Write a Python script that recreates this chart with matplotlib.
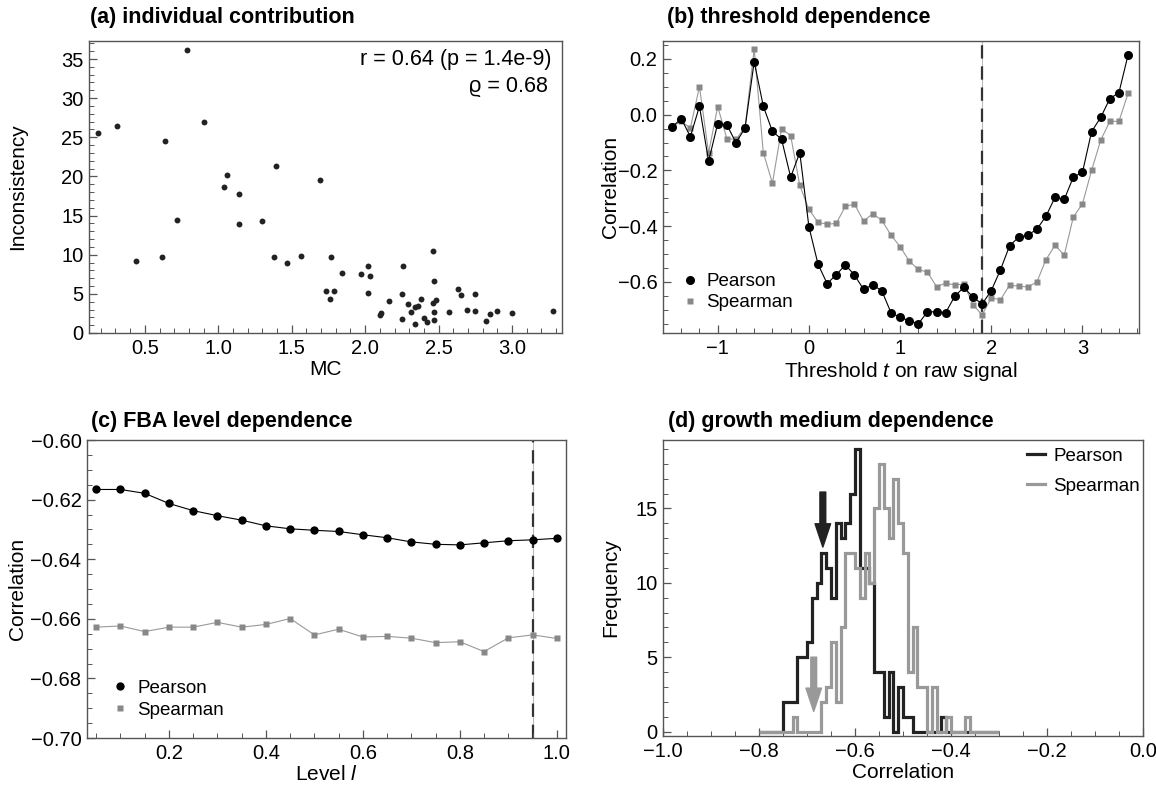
import numpy as np
import matplotlib
matplotlib.use('Agg')
import matplotlib.pyplot as plt
from matplotlib.ticker import MultipleLocator, FuncFormatter

plt.rcParams['font.family'] = ['Liberation Sans', 'DejaVu Sans']
plt.rcParams['mathtext.fontset'] = 'custom'
plt.rcParams['mathtext.rm'] = 'Liberation Sans'
plt.rcParams['mathtext.it'] = 'Liberation Sans:italic'

# ---------------- data ----------------
# (a) individual contribution
mc = [0.18, 0.31, 0.79, 0.90, 0.64, 0.44, 0.62, 0.72, 1.04, 1.06, 1.14, 1.14, 1.30,
      1.39, 1.38, 1.47, 1.56, 1.69, 1.77, 1.84, 1.73, 1.79, 1.76, 1.97, 2.02, 2.03,
      2.02, 2.10, 2.11, 2.16, 2.26, 2.25, 2.25, 2.29, 2.31, 2.34, 2.36, 2.38, 2.34,
      2.40, 2.42, 2.46, 2.46, 2.47, 2.48, 2.47, 2.47, 2.57, 2.63, 2.65, 2.69, 2.75,
      2.75, 2.82, 2.85, 2.90, 3.00, 3.28]
inconsistency = [25.6, 26.5, 36.2, 26.9, 24.5, 9.2, 9.7, 14.4, 18.6, 20.2, 17.7, 13.9, 14.3,
                 21.3, 9.7, 8.9, 9.8, 19.5, 9.7, 7.7, 5.4, 5.4, 4.4, 7.6, 8.5, 7.3,
                 5.1, 2.3, 2.5, 4.1, 8.6, 5.0, 1.8, 3.7, 2.7, 3.3, 3.5, 4.3, 1.1,
                 1.9, 1.4, 10.5, 3.8, 6.7, 4.2, 2.7, 1.6, 2.7, 5.6, 4.9, 2.9, 5.0,
                 2.8, 1.5, 2.4, 2.8, 2.5, 2.8]

# (b) threshold dependence
threshold = [-1.5, -1.4, -1.3, -1.2, -1.1, -1.0, -0.9, -0.8, -0.7, -0.6, -0.5, -0.4, -0.3,
             -0.2, -0.1, 0.0, 0.1, 0.2, 0.3, 0.4, 0.5, 0.6, 0.7, 0.8, 0.9, 1.0, 1.1, 1.2,
             1.3, 1.4, 1.5, 1.6, 1.7, 1.8, 1.9, 2.0, 2.1, 2.2, 2.3, 2.4, 2.5, 2.6, 2.7,
             2.8, 2.9, 3.0, 3.1, 3.2, 3.3, 3.4, 3.5]
pearson_t = [-0.045, -0.014, -0.079, 0.030, -0.167, -0.032, -0.036, -0.101, -0.048, 0.190,
             0.030, -0.060, -0.088, -0.224, -0.136, -0.402, -0.536, -0.606, -0.574, -0.539,
             -0.575, -0.627, -0.610, -0.632, -0.710, -0.727, -0.739, -0.750, -0.707, -0.707,
             -0.710, -0.651, -0.619, -0.655, -0.679, -0.631, -0.557, -0.471, -0.439, -0.432,
             -0.411, -0.364, -0.296, -0.304, -0.224, -0.207, -0.061, -0.010, 0.057, 0.079,
             0.214]
spearman_t = [-0.042, -0.024, -0.048, 0.100, -0.137, 0.029, -0.086, -0.089, -0.044, 0.235,
              -0.136, -0.246, -0.051, -0.075, -0.254, -0.340, -0.386, -0.393, -0.390, -0.329,
              -0.321, -0.382, -0.355, -0.379, -0.432, -0.473, -0.525, -0.555, -0.565, -0.617,
              -0.604, -0.611, -0.607, -0.682, -0.718, -0.657, -0.664, -0.612, -0.615, -0.618,
              -0.600, -0.520, -0.468, -0.504, -0.367, -0.320, -0.200, -0.092, -0.024, -0.024,
              0.076]
t_marked = 1.9

# (c) FBA level dependence
level = [0.05, 0.10, 0.15, 0.20, 0.25, 0.30, 0.35, 0.40, 0.45, 0.50, 0.55, 0.60, 0.65,
         0.70, 0.75, 0.80, 0.85, 0.90, 0.95, 1.00]
pearson_l = [-0.6166, -0.6166, -0.6179, -0.6213, -0.6237, -0.6254, -0.6269, -0.6288,
             -0.6298, -0.6303, -0.6307, -0.6318, -0.6328, -0.6342, -0.6350, -0.6352,
             -0.6345, -0.6338, -0.6335, -0.6330]
spearman_l = [-0.6628, -0.6624, -0.6643, -0.6628, -0.6628, -0.6612, -0.6628, -0.6619,
              -0.6599, -0.6654, -0.6635, -0.6661, -0.6659, -0.6665, -0.6680, -0.6677,
              -0.6710, -0.6664, -0.6654, -0.6666]
l_marked = 0.95

# (d) growth medium dependence: histogram counts in bins of 0.01 from -0.80 to -0.30
bin_edges = np.round(np.arange(-0.80, -0.295, 0.01), 2)
pearson_counts = [0, 0, 0, 0, 0, 2, 2, 2, 5, 5, 6, 9, 10, 12, 11, 9, 14, 13, 14, 16,
                  19, 11, 11, 10, 4, 4, 1, 4, 0, 3, 1, 1, 0, 0, 0, 0, 0, 0, 1, 0,
                  0, 0, 0, 0, 0, 0, 0, 0, 0, 0]
spearman_counts = [0, 0, 0, 0, 0, 0, 0, 1, 0, 0, 0, 0, 0, 2, 3, 6, 2, 7, 12, 12,
                   11, 9, 12, 10, 15, 18, 15, 13, 17, 14, 12, 4, 7, 3, 3, 0, 3, 0, 0, 1,
                   0, 0, 0, 1, 0, 0, 0, 0, 0, 0]
arrow_pearson = (-0.667, 16.1, 12.4)
arrow_spearman = (-0.686, 5.0, 1.35)

# ---------------- figure ----------------
W, H = 1156, 787
fig = plt.figure(figsize=(W / 100, H / 100), dpi=100)


def px_axes(l, t, r, b):
    return fig.add_axes([l / W, 1 - b / H, (r - l) / W, (b - t) / H])


def style(ax, xmaj, xmin, ymaj, ymin):
    for s in ax.spines.values():
        s.set_color('#555555')
        s.set_linewidth(1.0)
    ax.xaxis.set_major_locator(MultipleLocator(xmaj))
    ax.xaxis.set_minor_locator(MultipleLocator(xmin))
    ax.yaxis.set_major_locator(MultipleLocator(ymaj))
    ax.yaxis.set_minor_locator(MultipleLocator(ymin))
    ax.tick_params(which='both', direction='in', top=False, right=False,
                   colors='#555555', labelcolor='black', labelsize=14.5)
    ax.tick_params(which='major', length=6, width=0.9, pad=4)
    ax.tick_params(which='minor', length=3.5, width=0.7)


TITLE_KW = dict(fontsize=15.5, fontweight='bold', ha='left', va='center')
LABEL_FS = 15
LEG_FS = 13.5

# (a)
ax = px_axes(89, 41, 562, 333)
ax.scatter(mc, inconsistency, s=18, color='#222222', linewidths=0, zorder=3)
ax.set_xlim(0.12, 3.34)
ax.set_ylim(0, 37.3)
style(ax, 0.5, 0.1, 5, 1)
ax.set_xlabel('MC', fontsize=LABEL_FS, labelpad=2)
ax.set_ylabel('Inconsistency', fontsize=LABEL_FS)
ax.yaxis.set_label_coords(-0.131, 0.5)
ax.text(0.978, 0.935, 'r = 0.64 (p = 1.4e-9)', transform=ax.transAxes, ha='right',
        va='center', fontsize=15.5)
ax.text(0.97, 0.845, '\u03f1 = 0.68', transform=ax.transAxes, ha='right',
        va='center', fontsize=15.5)
fig.text(90 / W, 1 - 18 / H, '(a) individual contribution', **TITLE_KW)

# (b)
ax = px_axes(663, 41, 1139, 333)
ax.axvline(t_marked, color='#bbbbbb', lw=0.8, zorder=1)
ax.axvline(t_marked, color='#333333', lw=1.6, ls=(0, (6, 3.5)), zorder=1)
ax.plot(threshold, spearman_t, '-', color='#999999', lw=0.8, zorder=2)
ax.plot(threshold, pearson_t, '-', color='black', lw=0.8, zorder=3)
ax.plot(threshold, spearman_t, 's', color='#888888', ms=5, mec='none', zorder=2,
        label='Spearman')
ax.plot(threshold, pearson_t, 'o', color='black', ms=6.5, mec='none', zorder=3,
        label='Pearson')
ax.set_xlim(-1.6, 3.62)
ax.set_ylim(-0.783, 0.264)
style(ax, 1, 0.2, 0.2, 0.05)
ax.set_xlabel('Threshold $t$ on raw signal', fontsize=LABEL_FS, labelpad=2)
ax.set_ylabel('Correlation', fontsize=LABEL_FS)
ax.yaxis.set_label_coords(-0.090, 0.5)
h, lab = ax.get_legend_handles_labels()
ax.legend(h[::-1], lab[::-1], loc='lower left', bbox_to_anchor=(0.036, 0.075),
          frameon=False, fontsize=LEG_FS, handlelength=1.0, handletextpad=0.4,
          labelspacing=0.2, borderpad=0, borderaxespad=0)
fig.text(667 / W, 1 - 18 / H, '(b) threshold dependence', **TITLE_KW)

# (c)
ax = px_axes(87, 440, 566, 738)
ax.axvline(l_marked, color='#bbbbbb', lw=0.8, zorder=1)
ax.axvline(l_marked, color='#333333', lw=1.6, ls=(0, (6, 3.5)), zorder=1)
ax.plot(level, spearman_l, '-', color='#999999', lw=0.8, zorder=2)
ax.plot(level, pearson_l, '-', color='black', lw=0.8, zorder=3)
ax.plot(level, spearman_l, 's', color='#888888', ms=5, mec='none', zorder=2,
        label='Spearman')
ax.plot(level, pearson_l, 'o', color='black', ms=6, mec='none', zorder=3,
        label='Pearson')
ax.set_xlim(0.031, 1.019)
ax.set_ylim(-0.70, -0.60)
style(ax, 0.2, 0.05, 0.02, 0.005)
ax.yaxis.set_major_formatter(FuncFormatter(lambda v, p: f'{v:.2f}'.replace('-', '\u2212')))
ax.set_xlabel('Level $l$', fontsize=LABEL_FS, labelpad=2)
ax.set_ylabel('Correlation', fontsize=LABEL_FS)
ax.yaxis.set_label_coords(-0.125, 0.5)
h, lab = ax.get_legend_handles_labels()
ax.legend(h[::-1], lab[::-1], loc='lower left', bbox_to_anchor=(0.05, 0.065),
          frameon=False, fontsize=LEG_FS, handlelength=1.0, handletextpad=0.4,
          labelspacing=0.25, borderpad=0, borderaxespad=0)
fig.text(91 / W, 1 - 422 / H, '(c) FBA level dependence', **TITLE_KW)

# (d)
ax = px_axes(663, 440, 1143, 736)
ax.stairs(pearson_counts, bin_edges, color='#222222', lw=2.3, label='Pearson', zorder=2)
ax.stairs(spearman_counts, bin_edges, color='#999999', lw=2.3, label='Spearman', zorder=3)
for (xa, y0, y1), col in ((arrow_pearson, '#222222'), (arrow_spearman, '#999999')):
    ax.annotate('', xy=(xa, y1), xytext=(xa, y0),
                arrowprops=dict(arrowstyle='simple,head_length=1.2,head_width=0.8,tail_width=0.3',
                                color=col, mutation_scale=14, shrinkA=0, shrinkB=0), zorder=4)
ax.set_xlim(-1.0, 0.0)
ax.set_ylim(-0.3, 19.6)
style(ax, 0.2, 0.05, 5, 1)
ax.set_xlabel('Correlation', fontsize=LABEL_FS, labelpad=2)
ax.set_ylabel('Frequency', fontsize=LABEL_FS)
ax.yaxis.set_label_coords(-0.090, 0.5)
ax.legend(loc='upper left', bbox_to_anchor=(0.758, 0.975), frameon=False, fontsize=LEG_FS,
          handlelength=0.95, handletextpad=0.45, labelspacing=0.7, borderpad=0,
          borderaxespad=0)
fig.text(668 / W, 1 - 422 / H, '(d) growth medium dependence', **TITLE_KW)

fig.savefig('out.png', dpi=100)
